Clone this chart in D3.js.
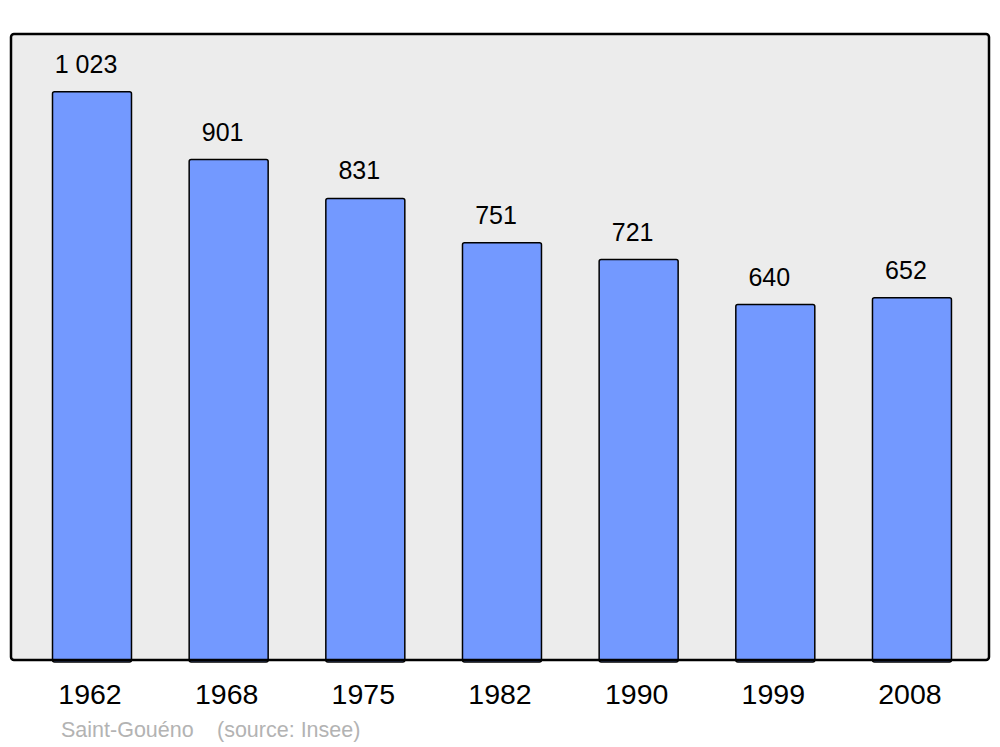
<!DOCTYPE html>
<html><head><meta charset="utf-8">
<script src="https://cdn.jsdelivr.net/npm/d3@7"></script>
<style>html,body{margin:0;padding:0;background:#fff;}svg{display:block;}</style>
</head><body>
<script>
const years = ["1962","1968","1975","1982","1990","1999","2008"];
const population = [1023, 901, 831, 751, 721, 640, 652];
const commune = "Saint-Gouéno";
const source = "(source: Insee)";

const W = 1000, H = 747;
const svg = d3.select("body").append("svg").attr("width", W).attr("height", H);

const panel = {x0: 11, x1: 989, y0: 34, y1: 660};
const x = d3.scaleBand().domain(years).range([23.67, 980.3]).paddingInner(0.422).paddingOuter(0.211);
const y = d3.scaleLinear().domain([0, 1127]).range([panel.y1, panel.y0]);
const fmt = d3.formatLocale({decimal: ",", thousands: " ", grouping: [3], currency: ["", ""]}).format(",d");

svg.append("rect").attr("x", panel.x0).attr("y", panel.y0)
  .attr("width", panel.x1 - panel.x0).attr("height", panel.y1 - panel.y0)
  .attr("rx", 3).attr("fill", "#ececec").attr("stroke", "none");

const data = years.map((yr, i) => ({year: yr, value: population[i]}));

svg.selectAll("rect.bar").data(data).join("rect").attr("class", "bar")
  .attr("x", d => x(d.year)).attr("y", d => y(d.value))
  .attr("width", x.bandwidth()).attr("height", d => y(0) - y(d.value) + 2)
  .attr("rx", 2).attr("fill", "#7399ff").attr("stroke", "#000").attr("stroke-width", 1.5);

svg.append("rect").attr("x", panel.x0).attr("y", panel.y0)
  .attr("width", panel.x1 - panel.x0).attr("height", panel.y1 - panel.y0)
  .attr("rx", 3).attr("fill", "none").attr("stroke", "#000").attr("stroke-width", 2.5);

svg.selectAll("text.val").data(data).join("text").attr("class", "val")
  .attr("x", d => x(d.year) + x.bandwidth() / 2 - 6).attr("y", d => y(d.value) - 19)
  .attr("text-anchor", "middle").attr("font-family", "Liberation Sans, Arial, sans-serif")
  .attr("font-size", 25).attr("fill", "#000").text(d => fmt(d.value));

svg.selectAll("text.year").data(data).join("text").attr("class", "year")
  .attr("x", d => x(d.year) + x.bandwidth() / 2 - 2).attr("y", 704)
  .attr("text-anchor", "middle").attr("font-family", "Liberation Sans, Arial, sans-serif")
  .attr("font-size", 28.5).attr("fill", "#000").text(d => d.year);

const foot = svg.append("g").attr("font-family", "Liberation Sans, Arial, sans-serif")
  .attr("font-size", 21.5).attr("fill", "#b3b3b3");
foot.append("text").attr("x", 61).attr("y", 737).text(commune);
foot.append("text").attr("x", 217).attr("y", 737).text(source);
</script>
</body></html>
